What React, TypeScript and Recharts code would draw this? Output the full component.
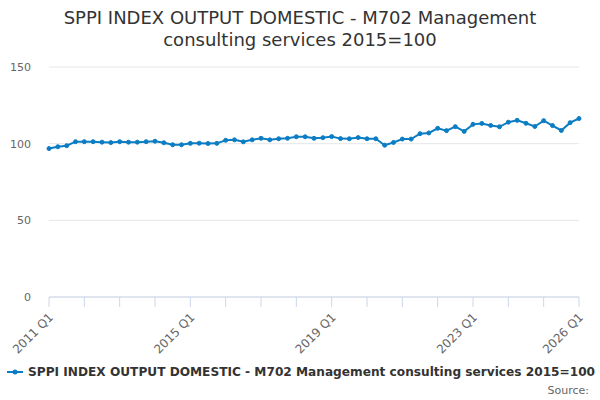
import React from 'react';
import { LineChart, Line, XAxis, YAxis, CartesianGrid } from 'recharts';

// quarterly index values, 2011 Q1 .. 2026 Q1 (2015=100)
const years = Array.from({ length: 16 }, (_, i) => 2011 + i);

const quarters: string[] = years
    .flatMap(y => ['Q1', 'Q2', 'Q3', 'Q4'].map(q => `${y} ${q}`))
    .slice(0, 61);

const values: number[] = [
    96.8, 98.0, 98.7, 101.3, 101.3, 101.3, 101.0, 100.7,
    101.3, 101.0, 101.0, 101.3, 101.6, 100.6, 99.3, 99.3,
    100.2, 100.3, 100.1, 100.2, 102.2, 102.5, 101.2, 102.5,
    103.5, 102.5, 103.2, 103.5, 104.5, 104.5, 103.5, 103.9,
    104.6, 103.3, 103.2, 104.0, 103.2, 103.2, 99.0, 100.8,
    103.0, 103.0, 106.5, 107.0, 110.0, 108.5, 111.1, 108.0,
    112.6, 113.2, 111.9, 111.0, 114.0, 115.2, 113.3, 111.2,
    115.0, 111.8, 108.6, 113.7, 116.4,
];

const xTicks = years.map(y => `${y} Q1`);
const labelledTicks = ['2011 Q1', '2015 Q1', '2019 Q1', '2023 Q1', '2026 Q1'];
const yTicks = [0, 50, 100, 150];

const seriesName = 'SPPI INDEX OUTPUT DOMESTIC - M702 Management consulting services 2015=100';
const LINE_COLOR = '#0b7dc4';
const FONT = '"DejaVu Sans", sans-serif';

const data = quarters.map((q, i) => ({ quarter: q, value: values[i] }));

const XTick = (props: any) => {
    const { x, y, payload } = props;
    if (!labelledTicks.includes(payload.value)) return null;
    return (
        <g transform={`translate(${x + 5},${y + 9})`}>
            <text
                textAnchor="end"
                transform="rotate(-45)"
                fill="#666666"
                fontSize={12}
                fontFamily={FONT}
            >
                {payload.value}
            </text>
        </g>
    );
};

const App: React.FC = () => {
    return (
        <div style={{ position: 'absolute', left: 0, top: 0, width: 600, height: 400, fontFamily: FONT }}>
            <div
                style={{
                    position: 'absolute',
                    top: 7,
                    left: 0,
                    width: 600,
                    textAlign: 'center',
                    fontSize: 18,
                    lineHeight: '22px',
                    color: '#333333',
                }}
            >
                SPPI INDEX OUTPUT DOMESTIC - M702 Management
                <br />
                consulting services 2015=100
            </div>
            <LineChart
                width={600}
                height={400}
                data={data}
                margin={{ top: 67, right: 21, bottom: 0, left: 0 }}
            >
                <CartesianGrid vertical={false} stroke="#e6e6e6" />
                <XAxis
                    dataKey="quarter"
                    ticks={xTicks}
                    interval={0}
                    height={103}
                    stroke="#ccd6eb"
                    tickSize={10}
                    tick={<XTick />}
                />
                <YAxis
                    domain={[0, 150]}
                    ticks={yTicks}
                    width={49}
                    axisLine={false}
                    tickLine={false}
                    tickSize={0}
                    tickMargin={18}
                    tick={{ fill: '#666666', fontSize: 11, fontFamily: FONT }}
                />
                <Line
                    dataKey="value"
                    stroke={LINE_COLOR}
                    strokeWidth={2}
                    dot={{ r: 2, fill: LINE_COLOR, stroke: LINE_COLOR, strokeWidth: 1 }}
                    isAnimationActive={false}
                />
            </LineChart>
            <div
                style={{
                    position: 'absolute',
                    top: 365,
                    left: 7,
                    display: 'flex',
                    alignItems: 'center',
                    whiteSpace: 'nowrap',
                    fontSize: 12.15,
                    fontWeight: 'bold',
                    color: '#333333',
                }}
            >
                <svg width={16} height={12} style={{ marginRight: 5 }}>
                    <line x1={0} y1={6} x2={16} y2={6} stroke={LINE_COLOR} strokeWidth={2} />
                    <circle cx={8} cy={6} r={2.5} fill={LINE_COLOR} />
                </svg>
                {seriesName}
            </div>
            <div
                style={{
                    position: 'absolute',
                    top: 384,
                    right: 11,
                    fontSize: 11,
                    color: '#666666',
                }}
            >
                Source:
            </div>
        </div>
    );
};

export default App;
